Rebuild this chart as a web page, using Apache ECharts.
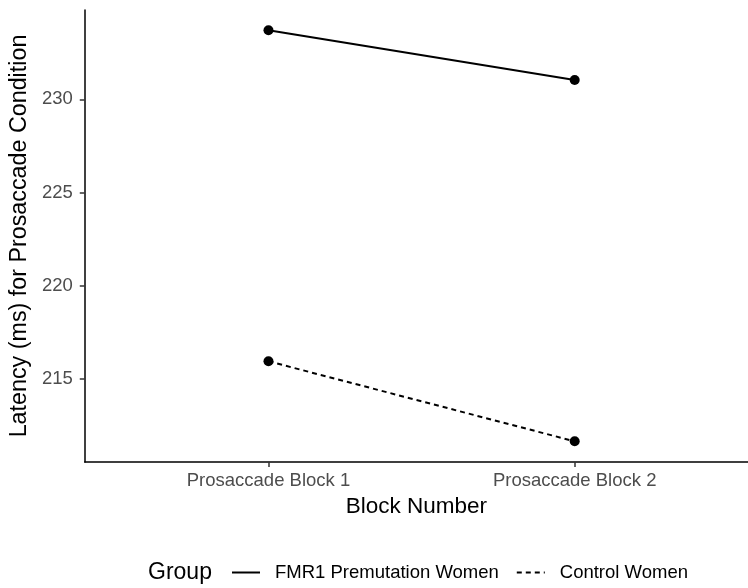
<!DOCTYPE html>
<html>
<head>
<meta charset="utf-8">
<script src="https://cdn.jsdelivr.net/npm/echarts@6/dist/echarts.min.js"></script>
<style>html,body{margin:0;padding:0;background:#fff}#c{width:748px;height:588px}</style>
</head>
<body>
<div id="c"></div>
<script>
const categories = ['Prosaccade Block 1', 'Prosaccade Block 2'];
const seriesNames = ['FMR1 Premutation Women', 'Control Women'];
const fmr1Values = [233.71, 231.04];
const controlValues = [215.93, 211.63];
const yTicks = [215, 220, 225, 230];

const FONT = 'Liberation Sans, Arial, Helvetica, sans-serif';
const chart = echarts.init(document.getElementById('c'));

function toPoints(vals) { return vals.map((v, i) => [i + 1, v]); }

chart.setOption({
  animation: false,
  textStyle: { fontFamily: FONT },
  title: {
    text: 'Group', left: 148, top: 561, padding: 0,
    textStyle: { fontFamily: FONT, fontSize: 23, fontWeight: 'normal', color: '#000' }
  },
  legend: {
    left: 231, top: 563, padding: 0,
    itemWidth: 28, itemHeight: 20, itemGap: 17,
    itemStyle: { opacity: 0 },
    textStyle: { fontFamily: FONT, fontSize: 18.5, color: '#000', padding: [0, 0, 0, 10] },
    data: seriesNames
  },
  grid: { left: 83, right: 0, top: 10, bottom: 126, containLabel: false },
  xAxis: {
    type: 'value', min: 0.4, max: 2.566,
    splitLine: { show: false },
    axisLine: { lineStyle: { color: '#000', width: 1.5 } },
    axisTick: { show: true, length: 5, customValues: [1, 2], lineStyle: { color: '#333', width: 1.5 } },
    axisLabel: {
      customValues: [1, 2], margin: 9,
      formatter: v => categories[Math.round(v) - 1] || '',
      fontFamily: FONT, fontSize: 18.5, color: '#4D4D4D'
    },
    name: 'Block Number', nameLocation: 'middle', nameGap: 33,
    nameTextStyle: { fontFamily: FONT, fontSize: 22.5, color: '#000' }
  },
  yAxis: {
    type: 'value', min: 210.52, max: 234.8,
    splitLine: { show: false },
    axisLine: { show: true, lineStyle: { color: '#000', width: 1.5 } },
    axisTick: { show: true, length: 5, customValues: yTicks, lineStyle: { color: '#333', width: 1.5 } },
    axisLabel: { customValues: yTicks, margin: 12, fontFamily: FONT, fontSize: 18.5, color: '#4D4D4D' },
    name: 'Latency (ms) for Prosaccade Condition', nameLocation: 'middle', nameGap: 50,
    nameTextStyle: { fontFamily: FONT, fontSize: 23.3, color: '#000' }
  },
  series: [
    {
      name: seriesNames[0], type: 'line', data: toPoints(fmr1Values),
      symbol: 'circle', symbolSize: 10,
      itemStyle: { color: '#000' },
      lineStyle: { color: '#000', width: 2, type: 'solid' }
    },
    {
      name: seriesNames[1], type: 'line', data: toPoints(controlValues),
      symbol: 'circle', symbolSize: 10,
      itemStyle: { color: '#000' },
      lineStyle: { color: '#000', width: 2, type: [5, 4] }
    }
  ]
});
</script>
</body>
</html>
